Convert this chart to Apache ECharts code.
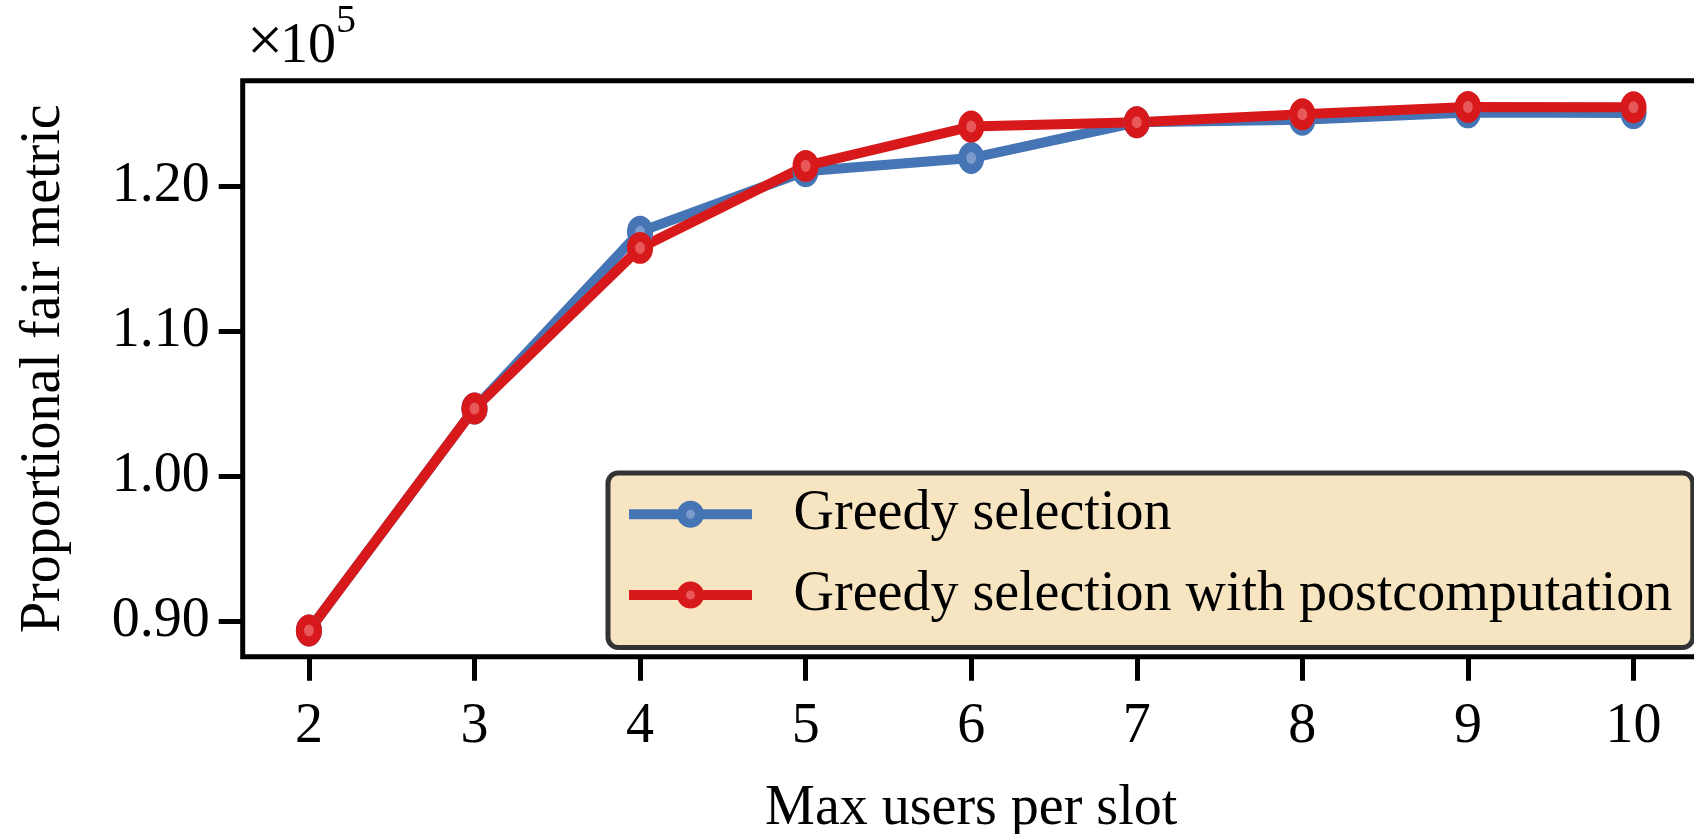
<!DOCTYPE html>
<html>
<head>
<meta charset="utf-8">
<script src="https://cdn.jsdelivr.net/npm/echarts@6/dist/echarts.min.js"></script>
<style>
  html, body { margin: 0; padding: 0; background: #fff; }
  #chart { width: 1694px; height: 834px; }
</style>
</head>
<body>
<div id="chart"></div>
<script>
// Max users per slot (x values)
const users = [2, 3, 4, 5, 6, 7, 8, 9, 10];
// Proportional fair metric, greedy selection
const greedy = [89380, 104700, 116900, 121070, 121980, 124450, 124620, 125130, 125080];
// Proportional fair metric, greedy selection with postcomputation
const postcomp = [89380, 104700, 115780, 121440, 124150, 124450, 125000, 125510, 125480];
// Y tick values (shown scaled by 1e5)
const yTicks = [90000, 100000, 110000, 120000];
const seriesNames = ['Greedy selection', 'Greedy selection with postcomputation'];

const FONT = 'Liberation Serif';
const BLUE = '#4575b4';
const RED = '#d7191c';

// 5% padding around the data range on both axes
function padded(arr) {
  const lo = Math.min.apply(null, arr), hi = Math.max.apply(null, arr);
  const m = (hi - lo) * 0.05;
  return [lo - m, hi + m];
}
const xr = padded(users);
const yr = padded(greedy.concat(postcomp));

function pairs(ys) { return users.map((u, i) => [u, ys[i]]); }

function lineSeries(name, ys, color, fill) {
  return {
    name: name,
    type: 'line',
    data: pairs(ys),
    symbol: 'circle',
    symbolSize: [18, 22],
    lineStyle: { color: color, width: 10 },
    itemStyle: { color: fill, borderColor: color, borderWidth: 9 },
    emphasis: { disabled: true },
    clip: false
  };
}

const chart = echarts.init(document.getElementById('chart'), null, { renderer: 'canvas' });
chart.setOption({
  animation: false,
  backgroundColor: '#fff',
  grid: {
    left: 242.7, top: 80.7, width: 1457, height: 576,
    outerBoundsMode: 'none',
    show: true, borderColor: '#000', borderWidth: 5, backgroundColor: 'transparent'
  },
  xAxis: {
    type: 'value',
    min: xr[0], max: xr[1],
    name: 'Max users per slot',
    nameLocation: 'middle',
    nameGap: 125,
    nameTextStyle: { fontFamily: FONT, fontSize: 56, color: '#000' },
    axisLine: { show: false },
    axisTick: { show: true, length: 24, lineStyle: { color: '#000', width: 5 }, customValues: users },
    axisLabel: { fontFamily: FONT, fontSize: 56, color: '#000', margin: 43, customValues: users,
                 formatter: v => String(v) },
    splitLine: { show: false }
  },
  yAxis: {
    type: 'value',
    min: yr[0], max: yr[1],
    name: 'Proportional fair metric',
    nameLocation: 'middle',
    nameGap: 170,
    nameTextStyle: { fontFamily: FONT, fontSize: 56, color: '#000' },
    axisLine: { show: false },
    axisTick: { show: true, length: 24, lineStyle: { color: '#000', width: 5 }, customValues: yTicks },
    axisLabel: { fontFamily: FONT, fontSize: 56, color: '#000', margin: 33, customValues: yTicks,
                 formatter: v => (v / 1e5).toFixed(2) },
    splitLine: { show: false }
  },
  legend: {
    data: seriesNames,
    orient: 'vertical',
    left: 608, top: 473,
    itemWidth: 123, itemHeight: 22.5, itemGap: 24.7,
    padding: [13.3, 20.5, 24.5, 16],
    backgroundColor: '#f7e5c2',
    borderColor: '#333', borderWidth: 5, borderRadius: 10,
    selectedMode: false,
    lineStyle: { width: 10 },
    itemStyle: { borderWidth: 9 },
    textStyle: { fontFamily: FONT, fontSize: 56, color: '#000', padding: [0, 0, 0, 36.6] }
  },
  graphic: [
    { type: 'text', left: 247, top: 12, silent: true,
      style: { text: '×', fontFamily: FONT, fontSize: 64, fill: '#000' } },
    { type: 'text', left: 280, top: 19, silent: true,
      style: { text: '10', fontFamily: FONT, fontSize: 56, fill: '#000' } },
    { type: 'text', left: 336, top: 1, silent: true,
      style: { text: '5', fontFamily: FONT, fontSize: 40, fill: '#000' } }
  ],
  series: [
    lineSeries(seriesNames[0], greedy, BLUE, '#7b9cca'),
    lineSeries(seriesNames[1], postcomp, RED, '#e6585a')
  ]
});
</script>
</body>
</html>
